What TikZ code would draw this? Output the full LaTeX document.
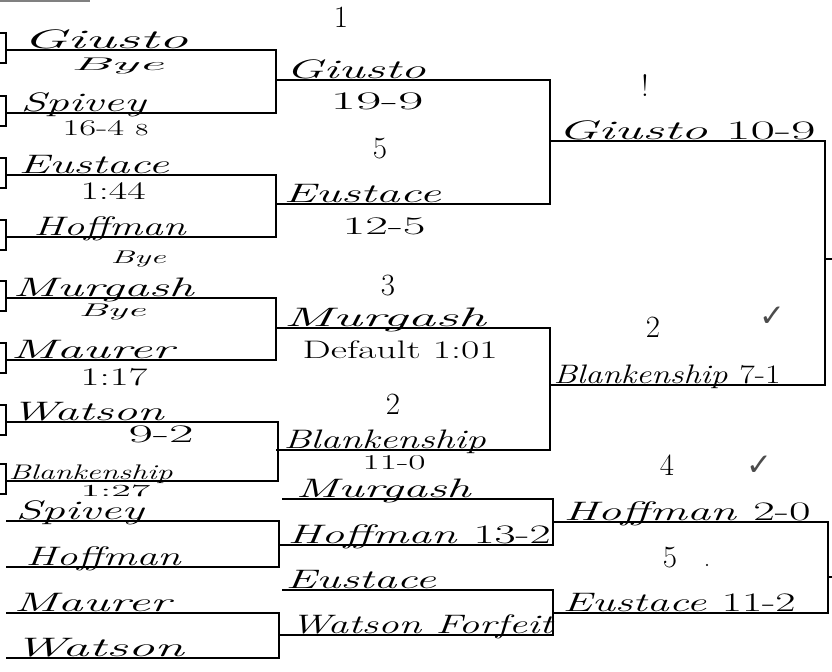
\documentclass[tikz,border=0pt]{standalone}
\usepackage{fontspec}
\usepackage{graphicx}
\newfontfamily\symfont{DejaVu Sans}
\newlength\pxu
\setlength\pxu{0.025cm}
% stretch a written entry to the width it takes on the sheet
\newcommand{\hw}[2]{\resizebox{#1\pxu}{\height}{#2}}

\begin{document}
\begin{tikzpicture}[x=0.025cm, y=-0.025cm, line width=0.9pt,
  entry/.style={inner sep=0pt, anchor=base west, font=\fontsize{19}{21}\selectfont\itshape},
  note/.style={inner sep=0pt, anchor=base west, font=\fontsize{18}{20}\selectfont},
  byenote/.style={inner sep=0pt, anchor=base west, font=\fontsize{13}{15}\selectfont\itshape},
  seed/.style={inner sep=0pt, font=\fontsize{22}{24}\selectfont},
  tick/.style={inner sep=0pt, text=black!70, font=\fontsize{22}{24}\selectfont\symfont}]
  \useasboundingbox (0,0) rectangle (832,671);
  \draw[gray, line width=2pt] (0,1) -- (90,1);

  % first round
  \foreach \yy in {50,113,175,237,298,360,422,481}
    \draw (0,\yy-17) -- (6,\yy-17) -- (6,\yy+13) -- (0,\yy+13);
  \foreach \ya/\yb/\xr in {50/113/276, 175/237/276, 298/360/276, 422/481/278, 521/567/279, 613/658/279}
    \draw (6,\ya) -- (\xr,\ya) -- (\xr,\yb) -- (6,\yb);

  % second round
  \foreach \ya/\yb in {80/204, 328/450}
    \draw (276,\ya) -- (550,\ya) -- (550,\yb) -- (276,\yb);
  \draw (282,499) -- (553,499) -- (553,545) -- (279,545);
  \draw (282,590) -- (553,590) -- (553,635) -- (279,635);

  % third round
  \draw (550,141) -- (825,141) -- (825,385) -- (550,385);
  \draw (825,259) -- (832,259);
  \draw (553,522) -- (828,522) -- (828,613) -- (553,613);
  \draw (828,577) -- (832,577);

  % names on the lines
  \foreach \nm/\xa/\yy/\w [count=\i] in {
      Giusto/22/50/165, Spivey/20/113/125, Eustace/18/175/150, Hoffman/33/237/152,
      Murgash/12/298/181, Maurer/10/360/163, Watson/10/422/153,
      Spivey/15/521/128, Hoffman/25/567/155, Maurer/13/613/157, Watson/13/658/170,
      Giusto/285/80/140, Eustace/283/204/157, Murgash/283/328/202, Blankenship/283/450/202,
      Murgash/295/499/175, {Hoffman \textup{13-2}}/287/545/263, Eustace/285/590/150,
      Watson Forfeit/290/635/262,
      {Giusto \textup{10-9}}/557/141/258, {Blankenship \textup{7-1}}/553/385/227,
      {Hoffman \textup{2-0}}/563/522/247, {Eustace \textup{11-2}}/562/613/233}
    \node[entry] (en\i) at (\xa,\yy-2) {\hw{\w}{\nm}};
  \node[entry, font=\fontsize{15}{17}\selectfont\itshape] (en24) at (8,479) {\hw{164}{Blankenship}};

  % results under the lines
  \foreach \nm/\xa/\yy/\w [count=\i] in {
      1:44/80/199/65, 1:17/80/385/67, 9-2/128/442/65, 19-9/330/109/93,
      12-5/342/234/83, Default 1:01/302/358/195}
    \node[note] (sc\i) at (\xa,\yy) {\hw{\w}{\nm}};
  \node[note, font=\fontsize{16}{18}\selectfont] (sc7) at (62,135)
    {\hw{86}{16-4 {\fontsize{12}{12}\selectfont 8}}};
  \node[note, font=\fontsize{15}{17}\selectfont] (sc8) at (362,469) {\hw{63}{11-0}};
  \node[note, font=\fontsize{12}{14}\selectfont] (sc9) at (80,496) {\hw{70}{1:27}};
  \foreach \xa/\yy/\w [count=\i] in {70/70/93, 110/263/55, 78/316/67}
    \node[byenote] (bye\i) at (\xa,\yy) {\hw{\w}{Bye}};

  % seeds and ticks
  \foreach \s/\xa/\yy [count=\i] in {1/341/17, 5/380/149, 3/388/286, 2/393/404,
      !/645/86, 2/653/327, 4/667/465, 5/670/558}
    \node[seed] (sd\i) at (\xa,\yy) {\s};
  \fill (707,565) circle (1.2);
  \node[tick] (ok1) at (772,317) {✓};
  \node[tick] (ok2) at (759,466) {✓};
\end{tikzpicture}
\end{document}
